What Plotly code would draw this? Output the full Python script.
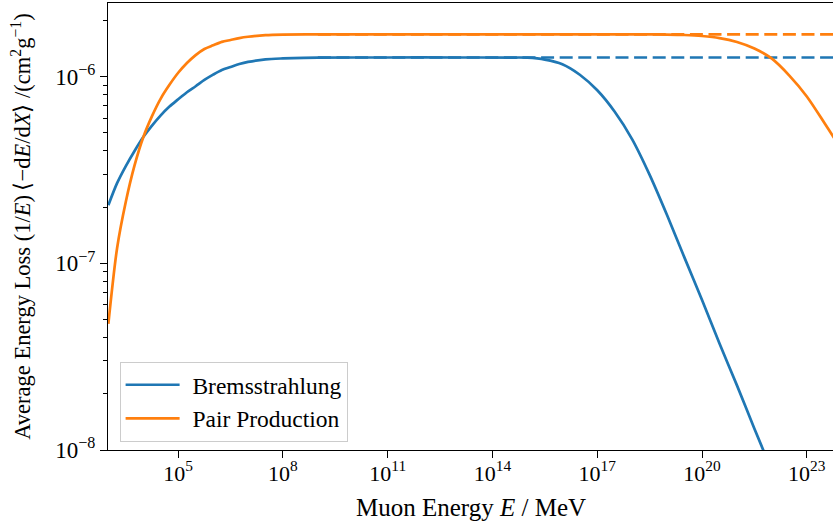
import numpy as np
import plotly.graph_objects as go

# Muon energy loss per unit energy vs. muon energy (log-log)
# Energies given as log10(E / MeV)
brems_log10_E = [3.0, 3.25, 3.5, 3.75, 4.0, 4.25, 4.5, 4.75, 5.0, 5.25, 5.5, 5.75,
                 6.0, 6.25, 6.5, 6.75, 7.0, 7.5, 8.0, 9.0, 11.0, 13.0, 14.5,
                 15.0, 15.5, 16.0, 16.5, 17.0, 17.5, 18.0, 18.5, 19.0, 19.5, 20.0,
                 20.5, 21.0, 21.5, 22.0]
brems_loss = [2.05e-7, 2.69e-7, 3.32e-7, 4.00e-7, 4.75e-7, 5.47e-7, 6.21e-7, 6.92e-7,
              7.57e-7, 8.26e-7, 8.89e-7, 9.61e-7, 1.026e-6, 1.087e-6, 1.128e-6,
              1.169e-6, 1.200e-6, 1.240e-6, 1.253e-6, 1.265e-6, 1.268e-6, 1.268e-6,
              1.267e-6, 1.265e-6, 1.236e-6, 1.167e-6, 1.025e-6, 8.46e-7, 6.49e-7,
              4.62e-7, 2.98e-7, 1.81e-7, 1.07e-7, 6.37e-8, 3.72e-8, 2.22e-8,
              1.30e-8, 7.72e-9]

pair_log10_E = [3.0, 3.25, 3.5, 3.75, 4.0, 4.25, 4.5, 4.75, 5.0, 5.25, 5.5, 5.75,
                6.0, 6.25, 6.5, 6.75, 7.0, 7.5, 8.0, 9.0, 12.0, 15.0, 18.0, 18.5,
                19.0, 19.5, 20.0, 20.5, 21.0, 21.5, 22.0, 22.5, 23.0, 23.5, 23.75, 24.0]
pair_loss = [4.74e-8, 1.206e-7, 2.14e-7, 3.35e-7, 4.74e-7, 6.15e-7, 7.64e-7, 9.05e-7,
             1.050e-6, 1.184e-6, 1.306e-6, 1.408e-6, 1.473e-6, 1.537e-6, 1.574e-6,
             1.611e-6, 1.638e-6, 1.671e-6, 1.682e-6, 1.686e-6, 1.687e-6, 1.687e-6,
             1.687e-6, 1.686e-6, 1.682e-6, 1.673e-6, 1.652e-6, 1.611e-6, 1.535e-6,
             1.416e-6, 1.249e-6, 1.014e-6, 7.84e-7, 5.67e-7, 4.80e-7, 4.06e-7]

# High-energy asymptotes (no LPM suppression)
asym_log10_E = [9.0, 24.0]
brems_asymptote = [1.268e-6, 1.268e-6]
pair_asymptote = [1.687e-6, 1.687e-6]

x_tick_exponents = [5, 8, 11, 14, 17, 20, 23]
y_tick_exponents = [-8, -7, -6]

BLUE = "#1f77b4"
ORANGE = "#ff7f0e"
FONT = "Liberation Serif"
LW = 2.7
DASH = "13px,5.6px"
GAP = "\u00a0\u200a"

def energies(exps):
    return [10.0 ** e for e in exps]

fig = go.Figure()
fig.add_trace(go.Scatter(x=energies(brems_log10_E), y=brems_loss, mode="lines",
                         name=GAP + "Bremsstrahlung",
                         line=dict(color=BLUE, width=LW, shape="spline", smoothing=0.8)))
fig.add_trace(go.Scatter(x=energies(asym_log10_E), y=brems_asymptote, mode="lines",
                         showlegend=False,
                         line=dict(color=BLUE, width=LW, dash=DASH)))
fig.add_trace(go.Scatter(x=energies(pair_log10_E), y=pair_loss, mode="lines",
                         name=GAP + "Pair Production",
                         line=dict(color=ORANGE, width=LW, shape="spline", smoothing=0.8)))
fig.add_trace(go.Scatter(x=energies(asym_log10_E), y=pair_asymptote, mode="lines",
                         showlegend=False,
                         line=dict(color=ORANGE, width=LW, dash=DASH)))

minor_y = [k * 10.0 ** n for n in (-8, -7, -6) for k in range(2, 10)]

fig.update_layout(
    width=833, height=527,
    margin=dict(l=108, r=0, t=3, b=77),
    paper_bgcolor="white", plot_bgcolor="white",
    font=dict(family=FONT, size=22, color="black"),
    showlegend=True,
    legend=dict(
        x=0.016, y=0.018, xanchor="left", yanchor="bottom",
        bgcolor="rgba(255,255,255,0.8)", bordercolor="#cccccc", borderwidth=1,
        font=dict(family=FONT, size=23.5, color="black"),
        itemwidth=54,
    ),
    xaxis=dict(
        type="log", range=[2.99, 23.75],
        showgrid=False, zeroline=False,
        showline=True, linecolor="black", linewidth=1.3, mirror=True,
        ticks="outside", ticklen=7, tickwidth=1.3, tickcolor="black",
        tickmode="array",
        tickvals=[10.0 ** e for e in x_tick_exponents],
        ticktext=[f"10<sup>{e}</sup>" for e in x_tick_exponents],
        tickfont=dict(family=FONT, size=22),
        ticklabelstandoff=-4,
    ),
    yaxis=dict(
        type="log", range=[-8, -5.605],
        showgrid=False, zeroline=False,
        showline=True, linecolor="black", linewidth=1.3, mirror=False,
        ticks="outside", ticklen=7, tickwidth=1.3, tickcolor="black",
        tickmode="array",
        tickvals=[10.0 ** e for e in y_tick_exponents],
        ticktext=[f"10<sup>\u2212{-e}</sup>" for e in y_tick_exponents],
        tickfont=dict(family=FONT, size=23),
        minor=dict(tickmode="array", tickvals=minor_y, ticks="outside",
                   ticklen=4, tickwidth=1.0, tickcolor="black", showgrid=False),
    ),
    annotations=[
        dict(text="Muon Energy <i>E</i> / MeV", xref="paper", yref="paper",
             x=0.5, y=-0.128, xanchor="center", yanchor="middle",
             showarrow=False, font=dict(family=FONT, size=25)),
        dict(text="Average Energy Loss (1/<i>E</i>)\u2009\u27e8\u2212d<i>E</i>/d<i>X</i>\u27e9 /(cm<sup>2</sup>g<sup>\u22121</sup>)",
             xref="paper", yref="paper", x=-0.121, y=0.5,
             xanchor="center", yanchor="middle", textangle=-90,
             showarrow=False, font=dict(family=FONT, size=22.5)),
    ],
)

fig.write_html("out.html")
